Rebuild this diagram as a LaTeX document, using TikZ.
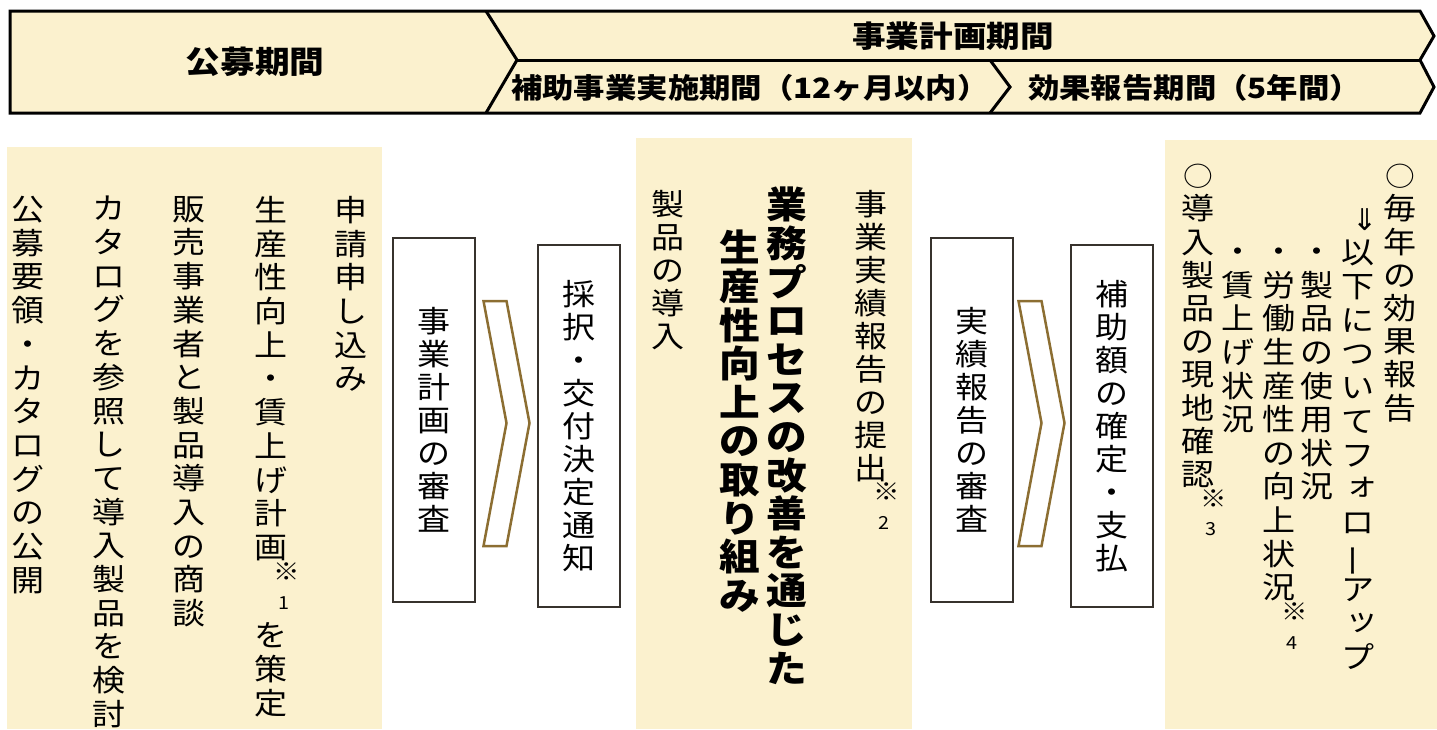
\documentclass[tikz,border=0pt]{standalone}
\usepackage{fontspec}
\usepackage{graphicx}
\usetikzlibrary{calc}
\setmainfont{Noto Sans CJK JP}[FakeStretch=1.12]
\newfontfamily\vjp{Noto Sans CJK JP}[FakeStretch=1.1]
\newfontfamily\arrowfont{DejaVu Sans}
\definecolor{beige}{RGB}{251,241,206}
\definecolor{gold}{RGB}{140,110,50}
\definecolor{boxgray}{RGB}{55,50,45}
\newcommand\vsp[1]{\vskip #1\relax}
% note mark "※n" placed below the preceding character, shifted right
\newcommand\knote[1]{\makebox[0pt][c]{\hspace*{32pt}\raisebox{11.5pt}{\fontsize{24}{24}\selectfont ※}}\makebox[0pt][c]{\hspace*{26pt}\raisebox{-17pt}{\fontsize{18}{18}\selectfont #1}}}
% vertical forms: long vowel mark and small kana
\newcommand\vbar{\rotatebox[origin=c]{90}{ー}}
\newcommand\sk[1]{\raisebox{0.14em}{\hspace*{0.24em}#1}}
\newcommand\maru{\scalebox{0.9}{○}}
\ExplSyntaxOn
\NewDocumentCommand \vt { O{33pt} m }
  {
    \vbox
      {
        \baselineskip = #1 \scan_stop:
        \lineskiplimit = -\maxdimen
        \lineskip = 0pt
        \tl_map_inline:nn {#2}
          {
            \tl_if_head_eq_meaning:nNTF {##1} \vsp
              { ##1 }
              { \hbox_to_wd:nn { 1.3em } { \hss \rule[-0.07em]{0pt}{0.85em} ##1 \hss } }
          }
      }
  }
\ExplSyntaxOff
\tikzset{
  vcol/.style={font=\vjp\fontsize{30}{33}\selectfont, inner sep=0pt, anchor=north},
  bcol/.style={font=\vjp\bfseries\fontsize{37}{38}\selectfont, inner sep=0pt, anchor=north},
  stepbox/.style={draw=boxgray, line width=2pt, fill=white, minimum width=82pt, minimum height=364pt, inner sep=0pt, font=\vjp\fontsize{30}{33}\selectfont},
  chev/.style={draw=gold, line width=2.5pt, fill=white, line join=miter},
  band/.style={draw=black, line width=3pt, line join=miter},
  bandtext/.style={font=\bfseries\fontsize{28}{28}\selectfont, inner sep=0pt},
  panel/.style={fill=beige}
}
\begin{document}
\begin{tikzpicture}[x=1pt,y=-1pt]
\useasboundingbox (0,0) rectangle (1437,729);
\clip (0,0) rectangle (1437,729);
% ---------- banner ----------
\path[band, fill=beige] (10,11) -- (1420,11) -- (1434,36) -- (1420,60) -- (1434,87) -- (1420,113) -- (10,113) -- cycle;
\draw[band] (486,11) -- (517,60) -- (486,113);
\draw[band] (517,60) -- (1420,60);
\draw[band] (990,60) -- (1010,87) -- (990,113);
\node[bandtext, font=\bfseries\fontsize{31}{31}\selectfont] (t1) at (255,62) {公募期間};
\node[bandtext, font=\bfseries\fontsize{30}{30}\selectfont] (t2) at (953,36) {事業計画期間};
\node[bandtext, anchor=west] (t3) at (511,88) {補助事業実施期間（12ヶ月以内）};
\node[bandtext, anchor=west] (t4) at (1028,88) {効果報告期間（5年間）};
% ---------- panels ----------
\fill[panel] (7,147) rectangle (382,729);
\fill[panel] (636,138) rectangle (912,729);
\fill[panel] (1165,140) rectangle (1437,729);
% left panel
\node[vcol] (l1) at (351,196) {\vt[33.7pt]{申請申し込み}};
\node[vcol] (l2) at (271,196) {\vt[33.7pt]{生産性向上・賃上げ計画{\knote{1}}{\vsp{21pt}}を策定}};
\node[vcol] (l3) at (189,196) {\vt[33.7pt]{販売事業者と製品導入の商談}};
\node[vcol] (l4) at (109,196) {\vt[33.7pt]{カタログを参照して導入製品を検討}};
\node[vcol] (l5) at (28,196) {\vt[33.7pt]{公募要領・カタログの公開}};
% middle panel
\node[vcol] (m1) at (871,190) {\vt[33pt]{事業実績報告の提出{\knote{2}}}};
\node[bcol] (m2) at (787,187) {\vt[38.6pt]{業務プロセスの改善を通じた}};
\node[bcol] (m3) at (740,230) {\vt[38.6pt]{生産性向上の取り組み}};
\node[vcol] (m4) at (668,190) {\vt[33pt]{製品の導入}};
% right panel
\node[vcol] (r1) at (1400,163) {\vt[33.2pt]{{\maru}毎年の効果報告}};
\node[inner sep=0pt, anchor=south, font=\arrowfont\fontsize{30}{30}\selectfont] (r2a) at (1365,231) {⇓};
\node[vcol] (r2) at (1358,240) {\vt[33.7pt]{以下についてフ{\sk{ォ}}ロ{\vbar}ア{\sk{ッ}}プ}};
\node[vcol] (r3) at (1317,239) {\vt[33.6pt]{・製品の使用状況}};
\node[vcol] (r4) at (1279,239) {\vt[33.6pt]{・労働生産性の向上状況{\knote{4}}}};
\node[vcol] (r5) at (1238,239) {\vt[33.6pt]{・賃上げ状況}};
\node[vcol] (r6) at (1198,163) {\vt[33.2pt]{{\maru}導入製品の現地確認{\knote{3}}}};
% ---------- step boxes ----------
\node[stepbox] (b1) at (434,420) {\vt{事業計画の審査}};
\node[stepbox, minimum height=362pt] (b2) at (579,426) {\vt{採択・交付決定通知}};
\node[stepbox] (b3) at (971.5,420) {\vt{実績報告の審査}};
\node[stepbox, minimum height=362pt] (b4) at (1111.5,426) {\vt{補助額の確定・支払}};
% ---------- chevron arrows ----------
\coordinate (c1) at ($(b1.east)!0.5!(b2.west)$);
\coordinate (c2) at ($(b3.east)!0.5!(b4.west)$);
\draw[chev, shift={(c1)}] (-23,-122) -- (0,-122) -- (23,0) -- (0,123) -- (-23,123) -- (0,0) -- cycle;
\draw[chev, shift={(c2)}] (-23,-122) -- (0,-122) -- (23,0) -- (0,123) -- (-23,123) -- (0,0) -- cycle;
\end{tikzpicture}
\end{document}
